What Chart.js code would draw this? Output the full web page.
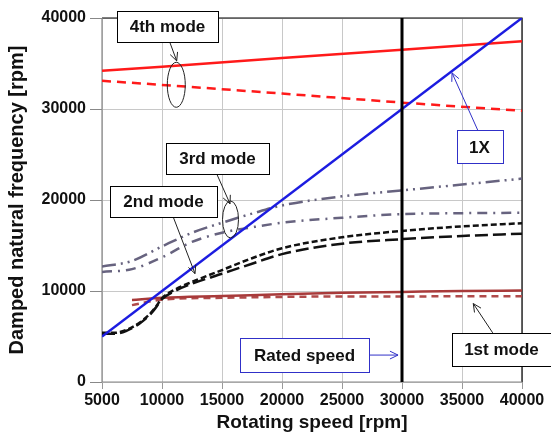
<!DOCTYPE html>
<html>
<head>
<meta charset="utf-8">
<script src="https://cdn.jsdelivr.net/npm/chart.js@4/dist/chart.umd.min.js"></script>
<style>
  html, body { margin: 0; padding: 0; background: #fff; }
</style>
</head>
<body>
<canvas id="myChart" width="551" height="439"></canvas>
<script>
// axis ticks
const speedTicks = [5000, 10000, 15000, 20000, 25000, 30000, 35000, 40000];
const freqTicks = [0, 10000, 20000, 30000, 40000];

// 1X synchronous line and rated speed
const oneXSpeed = [5000, 40000];
const oneXFreq = [5000, 40000];
const ratedSpeed = [30000, 30000];
const ratedFreq = [0, 40000];

// 1st mode (forward / backward)
const mode1Speed = [7500, 10000, 15000, 20000, 25000, 30000, 35000, 40000];
const mode1Fwd = [9000, 9250, 9450, 9650, 9800, 9900, 10000, 10050];
const mode1Bwd = [8450, 9050, 9250, 9350, 9400, 9400, 9420, 9420];

// 2nd mode
const mode2Speed = [5000, 6000, 7000, 8000, 8500, 9000, 9500, 10000, 11000, 12500, 15000, 17500, 20000, 25000, 30000, 35000, 40000];
const mode2Fwd = [5400, 5400, 5700, 6400, 6900, 7500, 8300, 9200, 10100, 11000, 12300, 13600, 14700, 15900, 16600, 17100, 17450];
const mode2Bwd = [5300, 5300, 5600, 6300, 6800, 7400, 8200, 9100, 9950, 10800, 11900, 13000, 14050, 15200, 15700, 16050, 16300];

// 3rd mode
const mode3Speed = [5000, 7500, 10000, 12500, 15000, 17500, 20000, 25000, 30000, 35000, 40000];
const mode3Fwd = [12700, 13300, 14900, 16400, 17500, 18500, 19400, 20400, 21050, 21700, 22350];
const mode3Bwd = [12100, 12400, 13700, 15400, 16400, 17000, 17500, 18050, 18450, 18550, 18600];

// 4th mode
const mode4Speed = [5000, 10000, 20000, 30000, 40000];
const mode4Fwd = [34200, 34650, 35600, 36500, 37450];
const mode4Bwd = [33100, 32650, 31700, 30700, 29800];

// callout boxes, arrows and ellipses (in data units; sizes in px)
const notes = [
  { text: '4th mode', x: 10460, y: 39120, w: 101, h: 31, color: '#000' },
  { text: '3rd mode', x: 14625, y: 24600, w: 103, h: 31, color: '#000' },
  { text: '2nd mode', x: 10125, y: 19890, w: 107, h: 31, color: '#000' },
  { text: '1X', x: 36460, y: 25830, w: 46, h: 33, color: '#3030c8' },
  { text: 'Rated speed', x: 21875, y: 2960, w: 129, h: 34, color: '#3030c8' },
  { text: '1st mode', x: 38290, y: 3560, w: 99, h: 33, color: '#000' }
];
const arrows = [
  { from: [10610, 37480], to: [11225, 35290], color: '#222' },
  { from: [14560, 22870], to: [15670, 19580], color: '#222' },
  { from: [10940, 18120], to: [12750, 11910], color: '#222' },
  { from: [36330, 27620], to: [34170, 33970], color: '#3030c8' },
  { from: [27330, 2960], to: [29670, 2960], color: '#3030c8' },
  { from: [37560, 5400], to: [35940, 8620], color: '#222' }
];
const rings = [
  { x: 11190, y: 32660, rx: 9, ry: 22.5 },
  { x: 15710, y: 17860, rx: 8, ry: 18.5 }
];

const FONT = "'Liberation Sans', Arial, sans-serif";

function pts(xs, ys) {
  return xs.map((x, i) => ({ x: x, y: ys[i] }));
}

function series(label, xs, ys, color, width, dash, smooth) {
  return {
    label: label,
    data: pts(xs, ys),
    borderColor: color,
    borderWidth: width,
    borderDash: dash || [],
    pointRadius: 0,
    fill: false,
    cubicInterpolationMode: smooth ? 'monotone' : 'default'
  };
}

const frame = {
  id: 'frame',
  beforeDatasetsDraw(chart) {
    const { ctx, chartArea: a } = chart;
    ctx.save();
    ctx.lineWidth = 1.2;
    ctx.strokeStyle = '#000';
    ctx.beginPath();
    ctx.moveTo(a.left, a.top);
    ctx.lineTo(a.right, a.top);
    ctx.lineTo(a.right, a.bottom);
    ctx.stroke();
    ctx.strokeStyle = '#888';
    ctx.beginPath();
    ctx.moveTo(a.left, a.top);
    ctx.lineTo(a.left, a.bottom);
    ctx.lineTo(a.right, a.bottom);
    ctx.stroke();
    ctx.restore();
  }
};

const callouts = {
  id: 'callouts',
  afterDatasetsDraw(chart) {
    const { ctx } = chart;
    const sx = chart.scales.x, sy = chart.scales.y;
    ctx.save();
    ctx.lineWidth = 1;

    arrows.forEach(a => {
      const x1 = sx.getPixelForValue(a.from[0]), y1 = sy.getPixelForValue(a.from[1]);
      const x2 = sx.getPixelForValue(a.to[0]), y2 = sy.getPixelForValue(a.to[1]);
      const ang = Math.atan2(y2 - y1, x2 - x1);
      ctx.strokeStyle = a.color;
      ctx.beginPath();
      ctx.moveTo(x1, y1);
      ctx.lineTo(x2, y2);
      ctx.moveTo(x2 - 9 * Math.cos(ang - 0.45), y2 - 9 * Math.sin(ang - 0.45));
      ctx.lineTo(x2, y2);
      ctx.lineTo(x2 - 9 * Math.cos(ang + 0.45), y2 - 9 * Math.sin(ang + 0.45));
      ctx.stroke();
    });

    ctx.strokeStyle = '#222';
    rings.forEach(r => {
      ctx.beginPath();
      ctx.ellipse(sx.getPixelForValue(r.x), sy.getPixelForValue(r.y), r.rx, r.ry, 0, 0, Math.PI * 2);
      ctx.stroke();
    });

    ctx.font = 'bold 17px ' + FONT;
    ctx.textAlign = 'center';
    ctx.textBaseline = 'middle';
    notes.forEach(n => {
      const cx = sx.getPixelForValue(n.x), cy = sy.getPixelForValue(n.y);
      const l = Math.round(cx - n.w / 2) + 0.5, t = Math.round(cy - n.h / 2) + 0.5;
      ctx.fillStyle = '#fff';
      ctx.fillRect(l, t, n.w, n.h);
      ctx.strokeStyle = n.color;
      ctx.strokeRect(l, t, n.w, n.h);
      ctx.fillStyle = '#111';
      ctx.fillText(n.text, cx, cy + 1);
    });
    ctx.restore();
  }
};

const ctx = document.getElementById('myChart');

new Chart(ctx, {
  type: 'line',
  data: {
    datasets: [
      series('Rated speed', ratedSpeed, ratedFreq, '#000', 3),
      series('1X', oneXSpeed, oneXFreq, '#1c1ce0', 2.5),
      series('4th mode F', mode4Speed, mode4Fwd, '#ff1a1a', 2.5),
      series('4th mode B', mode4Speed, mode4Bwd, '#ff1a1a', 2.5, [9, 6]),
      series('3rd mode F', mode3Speed, mode3Fwd, '#67637f', 2.5, [14, 5, 2, 5, 2, 5], true),
      series('3rd mode B', mode3Speed, mode3Bwd, '#67637f', 2.5, [10, 6, 2, 6], true),
      series('2nd mode F', mode2Speed, mode2Fwd, '#111', 2.5, [6, 3], true),
      series('2nd mode B', mode2Speed, mode2Bwd, '#111', 2.5, [13, 5], true),
      series('1st mode F', mode1Speed, mode1Fwd, '#a83a3a', 2.5, [], true),
      series('1st mode B', mode1Speed, mode1Bwd, '#b04a4a', 2.5, [7, 5], true)
    ]
  },
  options: {
    responsive: false,
    animation: false,
    devicePixelRatio: 1,
    layout: { padding: { top: 18, right: 29, bottom: 0, left: 0 } },
    plugins: { legend: { display: false }, tooltip: { enabled: false } },
    scales: {
      x: {
        type: 'linear',
        min: 5000,
        max: 40000,
        afterBuildTicks: s => { s.ticks = speedTicks.map(v => ({ value: v })); },
        afterFit: s => { s.height = 57; },
        grid: { color: '#c8c8c8', tickColor: '#999', tickLength: 7 },
        border: { display: false },
        ticks: {
          padding: 2,
          color: '#111',
          font: { family: FONT, size: 16, weight: 'bold' },
          callback: v => String(v),
          maxRotation: 0
        },
        title: {
          display: true,
          text: 'Rotating speed [rpm]',
          color: '#111',
          font: { family: FONT, size: 19, weight: 'bold' },
          padding: { top: 0, bottom: 5 }
        }
      },
      y: {
        min: 0,
        max: 40000,
        afterBuildTicks: s => { s.ticks = freqTicks.map(v => ({ value: v })); },
        afterFit: s => { s.width = 102; },
        grid: { color: '#c8c8c8', tickColor: '#888', tickLength: 12 },
        border: { display: false },
        ticks: {
          padding: 4,
          color: '#111',
          font: { family: FONT, size: 16, weight: 'bold' },
          callback: v => String(v)
        },
        title: {
          display: true,
          text: 'Damped natural frequency [rpm]',
          color: '#111',
          font: { family: FONT, size: 20, weight: 'bold' },
          padding: { top: 5, bottom: 0 }
        }
      }
    }
  },
  plugins: [frame, callouts]
});
</script>
</body>
</html>
